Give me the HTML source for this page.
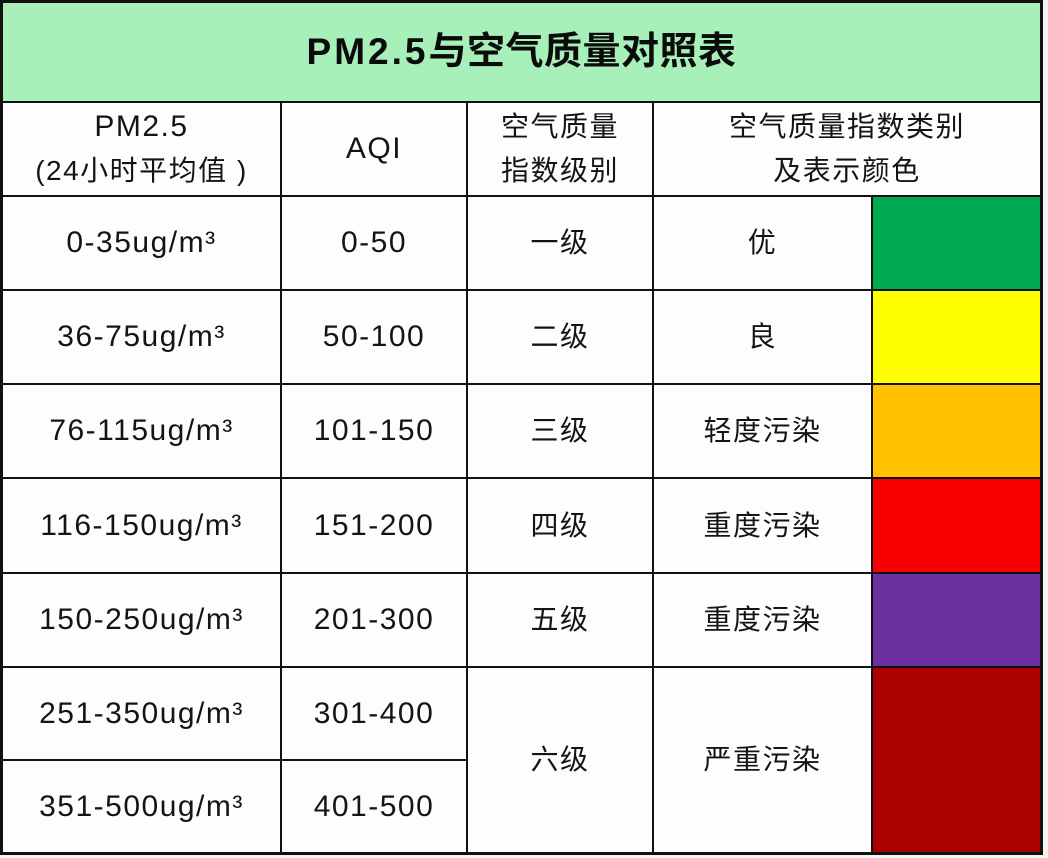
<!DOCTYPE html>
<html><head><meta charset="utf-8">
<style>
html,body{margin:0;padding:0;}
body{width:1048px;height:858px;background:#f3f4ef;position:relative;overflow:hidden;
font-family:"Liberation Sans","Noto Sans CJK SC",sans-serif;color:#141414;}
.tbl{position:absolute;left:0;top:0;width:1043px;height:855px;background:#fdfdff;}
.h{position:absolute;background:#111;height:2px;}
.v{position:absolute;background:#111;width:2px;}
.c{position:absolute;display:flex;align-items:center;justify-content:center;text-align:center;
font-size:30px;letter-spacing:1.5px;line-height:44px;}
.cj{letter-spacing:1.5px;font-size:28px;}
.f{position:absolute;}
</style></head><body>
<div class="tbl"></div>
<!-- title -->
<div class="f" style="left:3px;top:2px;width:1037px;height:99px;background:#a8f0ba;"></div>
<div class="c" style="left:3px;top:2px;width:1037px;height:99px;font-weight:bold;font-size:38px;letter-spacing:0.5px;color:#0b0b0b;">
<span style="font-size:37px;letter-spacing:3px;">PM2.5</span>与空气质量对照表</div>

<!-- color cells -->
<div class="f" style="left:873px;top:197px;width:168px;height:94px;background:#00a94f;"></div>
<div class="f" style="left:873px;top:291px;width:168px;height:94px;background:#ffff00;"></div>
<div class="f" style="left:873px;top:385px;width:168px;height:94px;background:#ffc000;"></div>
<div class="f" style="left:873px;top:479px;width:168px;height:94px;background:#f80000;"></div>
<div class="f" style="left:873px;top:573px;width:168px;height:94px;background:#6a30a0;"></div>
<div class="f" style="left:873px;top:667px;width:168px;height:186px;background:#aa0000;"></div>

<!-- outer border -->
<div class="h" style="left:0;top:0;width:1043px;height:3px;"></div>
<div class="h" style="left:0;top:852px;width:1043px;height:3px;"></div>
<div class="v" style="left:0;top:0;height:855px;width:3px;"></div>
<div class="v" style="left:1040px;top:0;height:855px;width:3px;"></div>

<!-- horizontal lines -->
<div class="h" style="left:0;top:101px;width:1043px;"></div>
<div class="h" style="left:0;top:195px;width:1043px;"></div>
<div class="h" style="left:0;top:289px;width:1043px;"></div>
<div class="h" style="left:0;top:383px;width:1043px;"></div>
<div class="h" style="left:0;top:477px;width:1043px;"></div>
<div class="h" style="left:0;top:572px;width:1043px;"></div>
<div class="h" style="left:0;top:666px;width:1043px;"></div>
<div class="h" style="left:0;top:759px;width:468px;"></div>

<!-- vertical lines -->
<div class="v" style="left:280px;top:101px;height:754px;"></div>
<div class="v" style="left:466px;top:101px;height:754px;"></div>
<div class="v" style="left:652px;top:101px;height:754px;"></div>
<div class="v" style="left:871px;top:195px;height:660px;"></div>

<!-- header -->
<div class="c" style="left:3px;top:103px;width:277px;height:92px;"><div>PM2.5<br><span class="cj">(24小时平均值 )</span></div></div>
<div class="c" style="left:282px;top:103px;width:184px;height:92px;">AQI</div>
<div class="c cj" style="left:468px;top:103px;width:184px;height:92px;"><div>空气质量<br>指数级别</div></div>
<div class="c cj" style="left:654px;top:103px;width:386px;height:92px;"><div>空气质量指数类别<br>及表示颜色</div></div>

<!-- rows -->
<div class="c" style="left:3px;top:197px;width:277px;height:92px;">0-35ug/m³</div>
<div class="c" style="left:282px;top:197px;width:184px;height:92px;">0-50</div>
<div class="c cj" style="left:468px;top:197px;width:184px;height:92px;">一级</div>
<div class="c cj" style="left:654px;top:197px;width:217px;height:92px;">优</div>

<div class="c" style="left:3px;top:291px;width:277px;height:92px;">36-75ug/m³</div>
<div class="c" style="left:282px;top:291px;width:184px;height:92px;">50-100</div>
<div class="c cj" style="left:468px;top:291px;width:184px;height:92px;">二级</div>
<div class="c cj" style="left:654px;top:291px;width:217px;height:92px;">良</div>

<div class="c" style="left:3px;top:385px;width:277px;height:92px;">76-115ug/m³</div>
<div class="c" style="left:282px;top:385px;width:184px;height:92px;">101-150</div>
<div class="c cj" style="left:468px;top:385px;width:184px;height:92px;">三级</div>
<div class="c cj" style="left:654px;top:385px;width:217px;height:92px;">轻度污染</div>

<div class="c" style="left:3px;top:479px;width:277px;height:93px;">116-150ug/m³</div>
<div class="c" style="left:282px;top:479px;width:184px;height:93px;">151-200</div>
<div class="c cj" style="left:468px;top:479px;width:184px;height:93px;">四级</div>
<div class="c cj" style="left:654px;top:479px;width:217px;height:93px;">重度污染</div>

<div class="c" style="left:3px;top:574px;width:277px;height:92px;">150-250ug/m³</div>
<div class="c" style="left:282px;top:574px;width:184px;height:92px;">201-300</div>
<div class="c cj" style="left:468px;top:574px;width:184px;height:92px;">五级</div>
<div class="c cj" style="left:654px;top:574px;width:217px;height:92px;">重度污染</div>

<div class="c" style="left:3px;top:668px;width:277px;height:91px;">251-350ug/m³</div>
<div class="c" style="left:282px;top:668px;width:184px;height:91px;">301-400</div>
<div class="c" style="left:3px;top:761px;width:277px;height:91px;">351-500ug/m³</div>
<div class="c" style="left:282px;top:761px;width:184px;height:91px;">401-500</div>
<div class="c cj" style="left:468px;top:668px;width:184px;height:184px;">六级</div>
<div class="c cj" style="left:654px;top:668px;width:217px;height:184px;">严重污染</div>
</body></html>
